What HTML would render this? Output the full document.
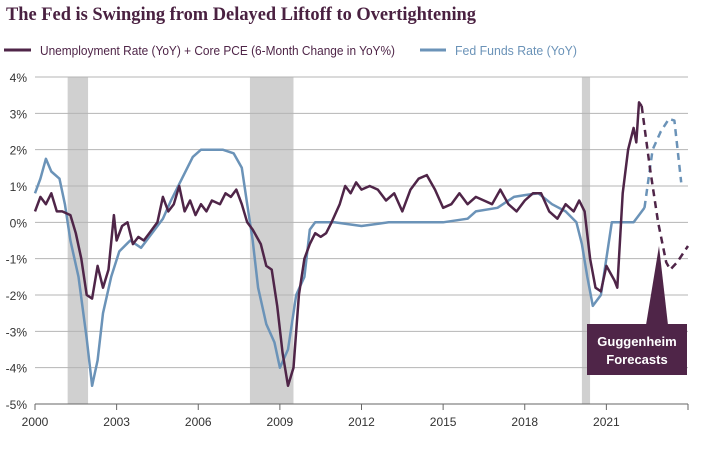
<!DOCTYPE html>
<html><head><meta charset="utf-8"><style>
body{margin:0;background:#fff;width:703px;height:449px;overflow:hidden;font-family:"Liberation Sans",sans-serif}
</style></head><body>
<svg width="703" height="449">
<text x="6" y="20" font-family="Liberation Serif" font-weight="bold" font-size="19" fill="#4a2141" textLength="470" lengthAdjust="spacingAndGlyphs">The Fed is Swinging from Delayed Liftoff to Overtightening</text>
<g>
<line x1="4" y1="50" x2="31" y2="50" stroke="#4f2548" stroke-width="3"/>
<text x="40" y="55" font-size="13" fill="#4f2548" textLength="355" lengthAdjust="spacingAndGlyphs">Unemployment Rate (YoY) + Core PCE (6-Month Change in YoY%)</text>
<line x1="420" y1="50" x2="446" y2="50" stroke="#6b93b8" stroke-width="3"/>
<text x="455" y="55" font-size="13" fill="#6b93b8" textLength="122" lengthAdjust="spacingAndGlyphs">Fed Funds Rate (YoY)</text>
</g>
<g id="plot"></g>
</svg>
<script>
const recessions=[[2001.2,2001.95],[2007.9,2009.5],[2020.1,2020.4]];
const yTicks=[4,3,2,1,0,-1,-2,-3,-4,-5];
const xTicks=[2000,2003,2006,2009,2012,2015,2018,2021];
const purpleT=[2000.0,2000.2,2000.4,2000.6,2000.8,2001.0,2001.3,2001.5,2001.7,2001.9,2002.1,2002.3,2002.5,2002.7,2002.9,2003.0,2003.2,2003.4,2003.6,2003.8,2004.0,2004.2,2004.5,2004.7,2004.9,2005.1,2005.3,2005.5,2005.7,2005.9,2006.1,2006.3,2006.5,2006.8,2007.0,2007.2,2007.4,2007.6,2007.8,2008.0,2008.3,2008.5,2008.7,2008.9,2009.1,2009.3,2009.5,2009.7,2009.9,2010.1,2010.3,2010.5,2010.7,2010.9,2011.2,2011.4,2011.6,2011.8,2012.0,2012.3,2012.6,2012.9,2013.2,2013.5,2013.8,2014.1,2014.4,2014.7,2015.0,2015.3,2015.6,2015.9,2016.2,2016.5,2016.8,2017.1,2017.4,2017.7,2018.0,2018.3,2018.6,2018.9,2019.2,2019.5,2019.8,2020.0,2020.2,2020.4,2020.6,2020.8,2021.0,2021.3,2021.4,2021.6,2021.8,2022.0,2022.1,2022.2,2022.3];
const purpleV=[0.3,0.7,0.5,0.8,0.3,0.3,0.2,-0.3,-1.0,-2.0,-2.1,-1.2,-1.8,-1.3,0.2,-0.5,-0.1,0.0,-0.6,-0.4,-0.5,-0.3,0.0,0.7,0.3,0.5,1.0,0.3,0.6,0.2,0.5,0.3,0.6,0.5,0.8,0.7,0.9,0.5,0.0,-0.2,-0.6,-1.2,-1.3,-2.3,-3.6,-4.5,-4.0,-2.0,-1.0,-0.6,-0.3,-0.4,-0.3,0.0,0.5,1.0,0.8,1.1,0.9,1.0,0.9,0.6,0.8,0.3,0.9,1.2,1.3,0.9,0.4,0.5,0.8,0.5,0.7,0.6,0.5,0.9,0.5,0.3,0.6,0.8,0.8,0.3,0.1,0.5,0.3,0.6,0.3,-1.0,-1.8,-1.9,-1.2,-1.6,-1.8,0.8,2.0,2.6,2.2,3.3,3.2];
const purpleFT=[2022.3,2022.6,2022.9,2023.2,2023.35,2023.6,2024.0];
const purpleFV=[3.2,1.5,0.0,-1.1,-1.3,-1.1,-0.65];
const blueT=[2000.0,2000.2,2000.4,2000.6,2000.9,2001.1,2001.3,2001.6,2001.9,2002.1,2002.3,2002.5,2002.8,2003.1,2003.5,2003.9,2004.3,2004.7,2005.0,2005.4,2005.8,2006.1,2006.5,2006.9,2007.3,2007.6,2007.8,2008.0,2008.2,2008.5,2008.8,2009.0,2009.3,2009.6,2009.9,2010.1,2010.3,2011.0,2012.0,2013.0,2014.0,2015.0,2015.9,2016.2,2017.0,2017.6,2018.0,2018.5,2019.0,2019.5,2019.9,2020.1,2020.3,2020.5,2020.8,2021.2,2022.0,2022.4];
const blueV=[0.8,1.2,1.75,1.4,1.2,0.5,-0.5,-1.5,-3.2,-4.5,-3.8,-2.5,-1.5,-0.8,-0.5,-0.7,-0.3,0.1,0.6,1.2,1.8,2.0,2.0,2.0,1.9,1.5,0.5,-0.5,-1.8,-2.8,-3.3,-4.0,-3.5,-2.0,-1.5,-0.2,0.0,0.0,-0.1,0.0,0.0,0.0,0.1,0.3,0.4,0.7,0.75,0.8,0.5,0.3,0.0,-0.6,-1.5,-2.3,-2.0,0.0,0.0,0.4];
const blueFT=[2022.4,2022.7,2023.0,2023.3,2023.5,2023.75];
const blueFV=[0.4,2.0,2.5,2.85,2.8,1.1];

const X0=35,X1=688,T0=2000,T1=2024,Y4=77,Y5=404;
const x=t=>X0+(t-T0)/(T1-T0)*(X1-X0);
const y=v=>Y4+(4-v)/9*(Y5-Y4);
const NS='http://www.w3.org/2000/svg';
const g=document.getElementById('plot');
function mk(tag,attrs,parent){const e=document.createElementNS(NS,tag);for(const k in attrs)e.setAttribute(k,attrs[k]);(parent||g).appendChild(e);return e;}
recessions.forEach(r=>{const e=mk('rect',{x:x(r[0]),y:Y4,width:x(r[1])-x(r[0]),height:Y5-Y4,fill:'#d0d0d0'});

});
yTicks.forEach(v=>{const l=mk('line',{x1:X0,x2:X1,y1:y(v),y2:y(v),stroke:'#b5b5b5','stroke-width':1});


const t=mk('text',{x:27,y:y(v)+5,'text-anchor':'end','font-size':12,fill:'#333'});t.textContent=v+'%';

});
const ax=mk('line',{x1:X0,x2:X1,y1:Y5,y2:Y5,stroke:'#666'});


xTicks.concat([2024]).forEach(t=>{mk('line',{x1:x(t),x2:x(t),y1:Y5,y2:Y5+6,stroke:'#666'});});
xTicks.forEach(t=>{const e=mk('text',{x:x(t),y:Y5+22,'text-anchor':'middle','font-size':12,fill:'#333'});e.textContent=t;

});
function path(T,V,color,dash,name){const d=T.map((t,i)=>(i?'L':'M')+x(t).toFixed(1)+','+y(V[i]).toFixed(1)).join('');
const p=mk('path',{d:d,fill:'none',stroke:color,'stroke-width':2.5,'stroke-linejoin':'round'});if(dash)p.setAttribute('stroke-dasharray','7,5');

}
path(blueT,blueV,'#6b93b8',false,'fed-funds-line');
path(blueFT,blueFV,'#6b93b8',true,'fed-funds-forecast-line');
path(purpleT,purpleV,'#4f2548',false,'unemployment-pce-line');
path(purpleFT,purpleFV,'#4f2548',true,'unemployment-pce-forecast-line');
const tri=mk('polygon',{points:'659,246 646,325 668,325',fill:'#4f2548'});


const box=mk('rect',{x:587,y:324,width:100,height:51,fill:'#4f2548'});


[['Guggenheim',346],['Forecasts',364]].forEach(a=>{const t=mk('text',{x:637,y:a[1],'text-anchor':'middle','font-size':13,'font-weight':'bold',fill:'#fff'});t.textContent=a[0];

});
</script>
</body></html>
